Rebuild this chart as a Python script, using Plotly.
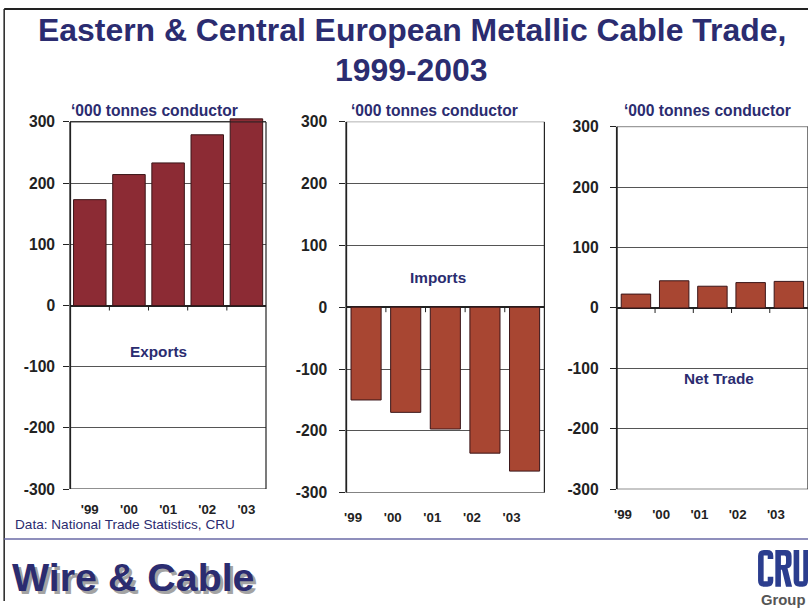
import plotly.graph_objects as go

# ---- data ('000 tonnes conductor) ----
years = ["'99", "'00", "'01", "'02", "'03"]
exports = [173, 214, 233, 279, 305]
imports = [-150, -170, -197, -236, -265]
net_trade = [23, 45, 36, 42, 44]
y_ticks = [-300, -200, -100, 0, 100, 200, 300]
y_tick_text = ["-300", "-200", "-100", "0", "100", "200", "300"]

# figure size; slide positions below are given in slide pixels and the
# slide is shown through the page body margin, so they are mapped here
W, H = 808, 609
BODY = 8
SX, SY = W / (W + 2 * BODY), H / (H + 2 * BODY)
FS = 2 / (SX + SY)  # font / pixel compensation
NAVY = "#2B2C70"
EXPORT_RED = "#8C2B34"
IMPORT_RUST = "#A84632"
FONT = "Liberation Sans, Arial, sans-serif"


def fx(px):
    v = (px / SX - BODY) / W
    return min(max(v, 0.0), 1.0)


def fy(py):
    v = 1 - (py / SY - BODY) / H
    return min(max(v, 0.0), 1.0)


# plot areas in slide pixels: (left, right, y of +300, y of -300)
panels = [
    (74.0, 266.7, 121.0, 489.0),
    (345.7, 540.7, 120.7, 492.7),
    (612.0, 801.0, 125.7, 489.3),
]
series = [exports, imports, net_trade]
colors = [EXPORT_RED, IMPORT_RUST, IMPORT_RUST]
widths = [0.83, 0.76, 0.77]
label_shift = [0, -13, -13]
label_standoff = [11, 15, 15]
ylabel_standoff = [5, 9, 8]

fig = go.Figure()
layout = dict(
    width=W, height=H, autosize=False,
    margin=dict(l=0, r=0, t=0, b=0),
    paper_bgcolor="white", plot_bgcolor="white",
    showlegend=False,
    font=dict(family=FONT),
)
shapes = []

for i, (vals, col, wd) in enumerate(zip(series, colors, widths)):
    n = "" if i == 0 else str(i + 1)
    fig.add_trace(go.Bar(
        x=years, y=vals, xaxis="x" + n, yaxis="y" + n,
        marker=dict(color=col, line=dict(color="#3A1518", width=1)),
        width=wd, hoverinfo="x+y",
    ))
    l, r, t, b = panels[i]
    # let the tallest bar run a little past the 300 gridline
    top_val = max(300, max(vals) + 2)
    px_per_unit = (b - t) / 600.0
    t_ext = t - (top_val - 300) * px_per_unit
    layout["xaxis" + n] = dict(
        domain=[fx(l), fx(r)], anchor="y" + n, type="category",
        range=[-0.5, 4.5], showline=False, ticks="", showgrid=False,
        zeroline=False,
        tickfont=dict(size=13 * FS, color="#222", weight="bold"),
        ticklabelstandoff=int(round(label_standoff[i] * FS)),
        ticklabelshift=int(round(label_shift[i] * FS)),
    )
    layout["yaxis" + n] = dict(
        domain=[fy(b), fy(t_ext)], anchor="x" + n, range=[-300, top_val],
        tickvals=y_ticks, ticktext=y_tick_text,
        ticks="outside", ticklen=6, tickwidth=1, tickcolor="#222",
        showline=False, showgrid=True, gridcolor="#555", gridwidth=1,
        zeroline=True, zerolinecolor="#222", zerolinewidth=1.5,
        tickfont=dict(size=15.3 * FS, color="#222", weight="bold"),
        ticklabelstandoff=ylabel_standoff[i],
    )
    xd, yd = "x" + n + " domain", "y" + n
    # panel frame between the -300 and 300 gridlines
    for x0, x1, y0, y1, w in [(0, 0, -300, 300, 1.8), (1, 1, -300, 300, 1.2),
                              (0, 1, -300, -300, 1.2), (0, 1, 300, 300, 1)]:
        shapes.append(dict(type="line", xref=xd, yref=yd, x0=x0, x1=x1,
                           y0=y0, y1=y1, line=dict(color="#222", width=w)))
    # category-boundary tick marks hanging from the zero line
    for k in range(len(years) - 1):
        shapes.append(dict(
            type="line", xref="x" + n, yref=yd,
            x0=k + 0.5, x1=k + 0.5, ysizemode="pixel", yanchor=0,
            y0=0, y1=-5, line=dict(color="#222", width=1),
        ))

# slide frame and footer separator
shapes += [
    dict(type="line", xref="paper", yref="paper", x0=fx(9), x1=fx(9),
         y0=1, y1=0, line=dict(color="#222", width=1.5)),
    dict(type="line", xref="paper", yref="paper", x0=fx(9), x1=1,
         y0=fy(6), y1=fy(6), line=dict(color="#222", width=2)),
    dict(type="line", xref="paper", yref="paper", x0=fx(9), x1=1,
         y0=fy(539), y1=fy(539), line=dict(color="#6A6AA6", width=1.5)),
]


def glyph(cmds):
    """Build an SVG path in paper units from slide-pixel commands."""
    out = []
    for c in cmds:
        op, pts = c[0], c[1:]
        coords = []
        for j in range(0, len(pts), 2):
            coords.append("%.5f,%.5f" % (fx(pts[j]), fy(pts[j + 1])))
        out.append(op + " ".join(coords))
    return " ".join(out)


LOGO = "#2B3D8E"
dx = -2  # logo kept inside the slide edge
C_path = glyph([
    ("M", 768 + dx, 559), ("L", 768 + dx, 556), ("Q", 768 + dx, 550, 762 + dx, 550),
    ("L", 759 + dx, 550), ("Q", 753 + dx, 550, 753 + dx, 556), ("L", 753 + dx, 581),
    ("Q", 753 + dx, 587, 759 + dx, 587), ("L", 762 + dx, 587),
    ("Q", 768 + dx, 587, 768 + dx, 581), ("L", 768 + dx, 577), ("L", 762.5 + dx, 577),
    ("L", 762.5 + dx, 581.5), ("L", 758.5 + dx, 581.5), ("L", 758.5 + dx, 555.5),
    ("L", 762.5 + dx, 555.5), ("L", 762.5 + dx, 559), ("Z",),
])
R_path = glyph([
    ("M", 770 + dx, 550), ("L", 780 + dx, 550), ("Q", 786 + dx, 550, 786 + dx, 556),
    ("L", 786 + dx, 563), ("Q", 786 + dx, 567.5, 782 + dx, 568.5),
    ("L", 786.5 + dx, 587), ("L", 780.5 + dx, 587), ("L", 776.5 + dx, 570),
    ("L", 775.5 + dx, 570), ("L", 775.5 + dx, 587), ("L", 770 + dx, 587), ("Z",),
    ("M", 775.5 + dx, 555.5), ("L", 779 + dx, 555.5),
    ("Q", 780.5 + dx, 555.5, 780.5 + dx, 557.5), ("L", 780.5 + dx, 563),
    ("Q", 780.5 + dx, 565, 779 + dx, 565), ("L", 775.5 + dx, 565), ("Z",),
])
U_path = glyph([
    ("M", 788 + dx, 550), ("L", 793.5 + dx, 550), ("L", 793.5 + dx, 581.5),
    ("L", 797.5 + dx, 581.5), ("L", 797.5 + dx, 550), ("L", 803 + dx, 550),
    ("L", 803 + dx, 581), ("Q", 803 + dx, 587, 797 + dx, 587), ("L", 794 + dx, 587),
    ("Q", 788 + dx, 587, 788 + dx, 581), ("Z",),
])
for p in (C_path, R_path, U_path):
    shapes.append(dict(type="path", xref="paper", yref="paper", path=p,
                       fillcolor=LOGO, fillrule="evenodd",
                       line=dict(width=0)))
layout["shapes"] = shapes


def note(text, x, y, size, color=NAVY, bold=True, xanchor="center"):
    return dict(
        text=text, xref="paper", yref="paper", x=fx(x), y=fy(y),
        xanchor=xanchor, yanchor="middle", showarrow=False,
        font=dict(size=size * FS, color=color, family=FONT,
                  weight="bold" if bold else "normal"),
    )


layout["annotations"] = [
    note("Eastern & Central European Metallic Cable Trade,", 410, 29, 31.2),
    note("1999-2003", 410, 69, 31.2),
    note("\u2018000 tonnes conductor", 72.7, 110, 15.3, xanchor="left"),
    note("\u2018000 tonnes conductor", 348.3, 110, 15.3, xanchor="left"),
    note("\u2018000 tonnes conductor", 617.3, 110, 15.3, xanchor="left"),
    note("Exports", 161, 351, 15),
    note("Imports", 436, 277, 15),
    note("Net Trade", 713, 378, 15),
    note("Data: National Trade Statistics, CRU", 18, 525, 13.3,
         bold=False, xanchor="left"),
    # footer brand with drop shadow
    note("Wire & Cable", 18, 580, 38.5, color="#A3A3A3", xanchor="left"),
    note("Wire & Cable", 15, 577, 38.5, xanchor="left"),
    note("Group", 776, 600, 14.5, color="#555555"),
]

fig.update_layout(**layout)
fig.write_html("out.html")
